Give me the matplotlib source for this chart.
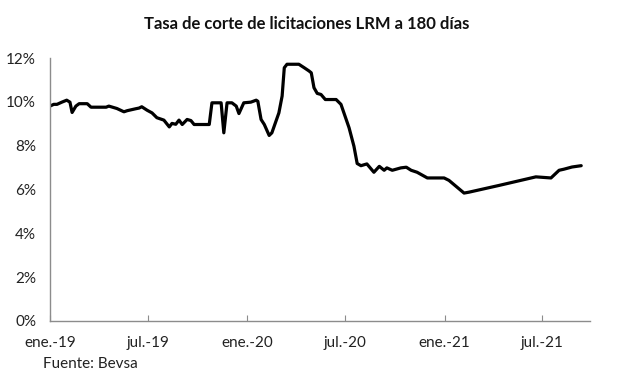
import pandas as pd
import matplotlib
matplotlib.use("Agg")
import matplotlib.pyplot as plt
from matplotlib.ticker import FuncFormatter

# fechas y tasa de corte (%)
dates = [
    "2019-01-01", "2019-01-08", "2019-01-14", "2019-01-23", "2019-02-01",
    "2019-02-07", "2019-02-11", "2019-02-18", "2019-02-24", "2019-03-11",
    "2019-03-18", "2019-04-15", "2019-04-20", "2019-05-05", "2019-05-18",
    "2019-05-24", "2019-06-09", "2019-06-15", "2019-06-20", "2019-06-30",
    "2019-07-09", "2019-07-18", "2019-07-31", "2019-08-10", "2019-08-15",
    "2019-08-22", "2019-08-28", "2019-09-03", "2019-09-12", "2019-09-19",
    "2019-09-25", "2019-10-23", "2019-10-28", "2019-11-14", "2019-11-19",
    "2019-11-25", "2019-12-04", "2019-12-12", "2019-12-17", "2019-12-26",
    "2020-01-08", "2020-01-18", "2020-01-21", "2020-01-27", "2020-02-02",
    "2020-02-11", "2020-02-16", "2020-02-29", "2020-03-06", "2020-03-10",
    "2020-03-15", "2020-04-06", "2020-04-16", "2020-04-25", "2020-04-29",
    "2020-05-04", "2020-05-10", "2020-05-17", "2020-05-25", "2020-06-14",
    "2020-06-23", "2020-07-08", "2020-07-17", "2020-07-23", "2020-07-30",
    "2020-08-10", "2020-08-23", "2020-09-02", "2020-09-11", "2020-09-16",
    "2020-09-26", "2020-10-12", "2020-10-22", "2020-10-31", "2020-11-11",
    "2020-11-30", "2020-12-31", "2021-01-09", "2021-02-06", "2021-02-15",
    "2021-04-12", "2021-06-19", "2021-07-17", "2021-08-01", "2021-08-10",
    "2021-08-25", "2021-09-11",
]
rates = [
    9.81, 9.89, 9.89, 9.99, 10.08,
    9.99, 9.52, 9.81, 9.92, 9.92,
    9.76, 9.76, 9.81, 9.70, 9.55,
    9.60, 9.69, 9.72, 9.78, 9.62,
    9.50, 9.28, 9.17, 8.86, 9.02,
    8.98, 9.17, 8.97, 9.20, 9.15,
    8.97, 8.97, 9.96, 9.96, 8.59,
    9.96, 9.96, 9.81, 9.47, 9.96,
    9.99, 10.08, 10.03, 9.20, 8.97,
    8.47, 8.59, 9.50, 10.27, 11.56,
    11.72, 11.72, 11.56, 11.41, 11.33,
    10.65, 10.39, 10.34, 10.11, 10.11,
    9.89, 8.82, 7.98, 7.19, 7.09,
    7.17, 6.79, 7.06, 6.88, 6.99,
    6.88, 6.99, 7.02, 6.88, 6.79,
    6.53, 6.53, 6.42, 5.84, 5.88,
    6.19, 6.58, 6.53, 6.88, 6.93,
    7.03, 7.09,
]

tick_dates = ["2019-01-01", "2019-07-01", "2020-01-01", "2020-07-01", "2021-01-01", "2021-07-01"]
tick_labels = ["ene.-19", "jul.-19", "ene.-20", "jul.-20", "ene.-21", "jul.-21"]

plt.rcParams["font.family"] = ["Lato", "DejaVu Sans"]

fig = plt.figure(figsize=(6.17, 3.75), dpi=100)
ax = fig.add_axes([0.081, 0.144, 0.875, 0.701])

x = pd.to_datetime(dates)
ax.plot(x, rates, color="black", linewidth=2.3, solid_joinstyle="round", solid_capstyle="round")

ax.set_ylim(0, 12)
ax.set_yticks(range(0, 13, 2))
ax.yaxis.set_major_formatter(FuncFormatter(lambda v, p: f"{v:.0f}%"))
ax.set_xlim(pd.Timestamp("2019-01-01"), pd.Timestamp("2021-09-27"))
ax.set_xticks(pd.to_datetime(tick_dates))
ax.set_xticklabels(tick_labels)

for side in ["top", "right"]:
    ax.spines[side].set_visible(False)
for side in ["left", "bottom"]:
    ax.spines[side].set_color("#8c8c8c")
    ax.spines[side].set_linewidth(1.0)

ax.tick_params(axis="x", direction="in", length=4, color="#8c8c8c", labelsize=11, pad=11, labelcolor="#222222")
ax.tick_params(axis="y", length=0, labelsize=11, pad=10, labelcolor="#222222")

fig.text(0.497, 0.937, "Tasa de corte de licitaciones LRM a 180 días",
         ha="center", va="center", fontsize=12, fontweight="bold", color="#111111")
fig.text(0.07, 0.03, "Fuente: Bevsa", ha="left", va="center", fontsize=11, color="#222222")

fig.savefig("out.png", dpi=100)
